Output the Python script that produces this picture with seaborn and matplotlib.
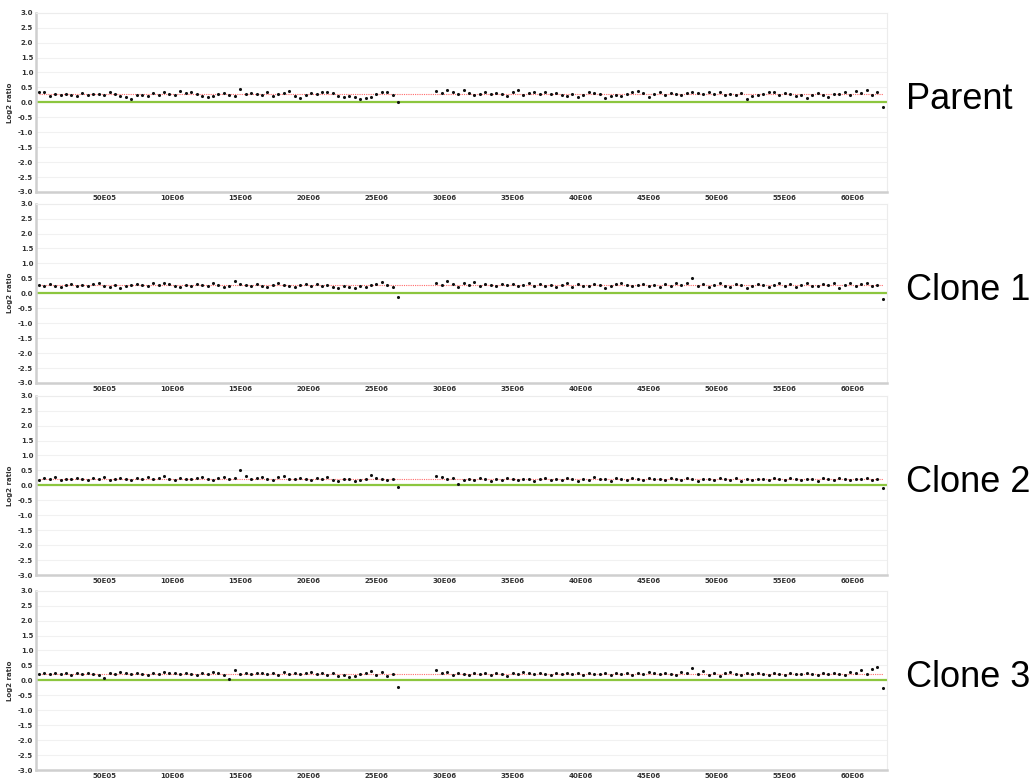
"""
Array CGH chromosome view: log2 ratio per probe for the parent line and three clones.
"""

import pandas as pd
import matplotlib.pyplot as plt
import seaborn as sns

# probe positions (Mb), shared by all four samples
p_arm_mb = [
    0.2, 0.6, 1.0, 1.4, 1.8, 2.2, 2.6, 3.0, 3.4, 3.8,
    4.2, 4.6, 5.0, 5.4, 5.8, 6.2, 6.6, 7.0, 7.4, 7.8,
    8.2, 8.6, 9.0, 9.4, 9.8, 10.2, 10.6, 11.0, 11.4, 11.8,
    12.2, 12.6, 13.0, 13.4, 13.8, 14.2, 14.6, 15.0, 15.4, 15.8,
    16.2, 16.6, 17.0, 17.4, 17.8, 18.2, 18.6, 19.0, 19.4, 19.8,
    20.2, 20.6, 21.0, 21.4, 21.8, 22.2, 22.6, 23.0, 23.4, 23.8,
    24.2, 24.6, 25.0, 25.4, 25.8, 26.2, 26.6,
]
q_arm_mb = [
    29.4, 29.8, 30.2, 30.6, 31.0, 31.4, 31.8, 32.2, 32.6, 33.0,
    33.4, 33.8, 34.2, 34.6, 35.0, 35.4, 35.8, 36.2, 36.6, 37.0,
    37.4, 37.8, 38.2, 38.6, 39.0, 39.4, 39.8, 40.2, 40.6, 41.0,
    41.4, 41.8, 42.2, 42.6, 43.0, 43.4, 43.8, 44.2, 44.6, 45.0,
    45.4, 45.8, 46.2, 46.6, 47.0, 47.4, 47.8, 48.2, 48.6, 49.0,
    49.4, 49.8, 50.2, 50.6, 51.0, 51.4, 51.8, 52.2, 52.6, 53.0,
    53.4, 53.8, 54.2, 54.6, 55.0, 55.4, 55.8, 56.2, 56.6, 57.0,
    57.4, 57.8, 58.2, 58.6, 59.0, 59.4, 59.8, 60.2, 60.6, 61.0,
    61.4, 61.8, 62.2,
]

samples = ["Parent", "Clone 1", "Clone 2", "Clone 3"]

parent_p = [
    0.33, 0.34, 0.22, 0.27, 0.25, 0.29, 0.24, 0.20, 0.31, 0.25,
    0.27, 0.29, 0.26, 0.33, 0.28, 0.22, 0.18, 0.12, 0.24, 0.26,
    0.22, 0.30, 0.25, 0.33, 0.28, 0.26, 0.37, 0.31, 0.34, 0.29,
    0.20, 0.18, 0.22, 0.27, 0.30, 0.24, 0.22, 0.46, 0.28, 0.31,
    0.27, 0.24, 0.35, 0.20, 0.27, 0.31, 0.39, 0.21, 0.16, 0.24,
    0.30, 0.28, 0.33, 0.35, 0.30, 0.22, 0.19, 0.21, 0.17, 0.11,
    0.14, 0.19, 0.27, 0.36, 0.33, 0.25, 0.01,
]
parent_q = [
    0.38, 0.30, 0.41, 0.33, 0.27, 0.40, 0.31, 0.24, 0.29, 0.33,
    0.27, 0.31, 0.28, 0.22, 0.35, 0.41, 0.26, 0.30, 0.33, 0.27,
    0.36, 0.29, 0.31, 0.25, 0.22, 0.28, 0.19, 0.26, 0.33, 0.30,
    0.27, 0.15, 0.20, 0.24, 0.21, 0.27, 0.33, 0.38, 0.30, 0.17,
    0.29, 0.33, 0.26, 0.31, 0.28, 0.24, 0.30, 0.36, 0.31, 0.27,
    0.34, 0.29, 0.33, 0.25, 0.28, 0.23, 0.31, 0.12, 0.21, 0.25,
    0.28, 0.33, 0.36, 0.24, 0.30, 0.27, 0.22, 0.25, 0.13, 0.26,
    0.30, 0.24, 0.17, 0.27, 0.29, 0.34, 0.26, 0.38, 0.31, 0.40,
    0.24, 0.36, -0.15,
]

clone1_p = [
    0.28, 0.24, 0.30, 0.26, 0.22, 0.29, 0.31, 0.25, 0.27, 0.24,
    0.30, 0.33, 0.26, 0.22, 0.28, 0.19, 0.25, 0.29, 0.31, 0.27,
    0.24, 0.33, 0.28, 0.35, 0.30, 0.26, 0.22, 0.29, 0.24, 0.31,
    0.27, 0.23, 0.34, 0.29, 0.21, 0.25, 0.42, 0.30, 0.27, 0.24,
    0.31, 0.26, 0.22, 0.28, 0.33, 0.29, 0.25, 0.20, 0.27, 0.31,
    0.26, 0.30, 0.24, 0.28, 0.22, 0.19, 0.25, 0.21, 0.17, 0.24,
    0.20, 0.28, 0.31, 0.37, 0.29, 0.22, -0.12,
]
clone1_q = [
    0.36, 0.28, 0.40, 0.30, 0.22, 0.33, 0.27, 0.38, 0.25, 0.31,
    0.29, 0.24, 0.32, 0.27, 0.30, 0.23, 0.28, 0.34, 0.26, 0.31,
    0.25, 0.29, 0.22, 0.27, 0.33, 0.21, 0.30, 0.26, 0.24, 0.31,
    0.28, 0.19, 0.26, 0.30, 0.35, 0.27, 0.23, 0.29, 0.32, 0.25,
    0.28, 0.22, 0.30, 0.26, 0.36, 0.29, 0.33, 0.52, 0.24, 0.31,
    0.20, 0.28, 0.34, 0.25, 0.22, 0.30, 0.27, 0.19, 0.25, 0.31,
    0.27, 0.22, 0.29, 0.33, 0.25, 0.30, 0.21, 0.28, 0.34, 0.26,
    0.23, 0.30, 0.27, 0.33, 0.18, 0.29, 0.35, 0.26, 0.31, 0.34,
    0.24, 0.29, -0.20,
]

clone2_p = [
    0.17, 0.24, 0.21, 0.27, 0.19, 0.23, 0.20, 0.26, 0.22, 0.18,
    0.24, 0.21, 0.27, 0.19, 0.23, 0.25, 0.20, 0.17, 0.24, 0.22,
    0.28, 0.21, 0.25, 0.30, 0.23, 0.19, 0.26, 0.22, 0.20, 0.25,
    0.29, 0.22, 0.18, 0.24, 0.27, 0.21, 0.26, 0.50, 0.31, 0.20,
    0.25, 0.29, 0.22, 0.17, 0.27, 0.31, 0.23, 0.20, 0.26, 0.22,
    0.18, 0.25, 0.21, 0.27, 0.19, 0.16, 0.22, 0.20, 0.15, 0.19,
    0.23, 0.36, 0.25, 0.21, 0.18, 0.22, -0.04,
]
clone2_q = [
    0.33, 0.27, 0.20, 0.24, 0.03, 0.19, 0.22, 0.17, 0.24, 0.20,
    0.16, 0.22, 0.19, 0.25, 0.21, 0.18, 0.23, 0.20, 0.15, 0.22,
    0.24, 0.19, 0.21, 0.17, 0.25, 0.20, 0.14, 0.22, 0.18, 0.27,
    0.23, 0.20, 0.16, 0.24, 0.21, 0.19, 0.26, 0.22, 0.18, 0.24,
    0.20, 0.23, 0.17, 0.25, 0.21, 0.19, 0.24, 0.20, 0.16, 0.23,
    0.21, 0.18, 0.25, 0.22, 0.19, 0.24, 0.15, 0.21, 0.18, 0.23,
    0.20, 0.17, 0.24, 0.21, 0.19, 0.26, 0.22, 0.18, 0.23, 0.20,
    0.16, 0.24, 0.21, 0.19, 0.25, 0.20, 0.17, 0.23, 0.21, 0.24,
    0.18, 0.22, -0.10,
]

clone3_p = [
    0.22, 0.26, 0.20, 0.24, 0.21, 0.25, 0.18, 0.23, 0.20, 0.26,
    0.22, 0.19, 0.08, 0.24, 0.21, 0.27, 0.23, 0.20, 0.25, 0.22,
    0.18, 0.24, 0.21, 0.28, 0.23, 0.26, 0.20, 0.24, 0.22, 0.19,
    0.25, 0.21, 0.27, 0.23, 0.19, 0.06, 0.36, 0.22, 0.25, 0.20,
    0.23, 0.26, 0.21, 0.24, 0.19, 0.27, 0.22, 0.25, 0.20, 0.23,
    0.28, 0.21, 0.24, 0.19, 0.26, 0.14, 0.17, 0.12, 0.16, 0.21,
    0.25, 0.31, 0.19, 0.27, 0.15, 0.22, -0.22,
]
clone3_q = [
    0.33, 0.24, 0.29, 0.19, 0.26, 0.22, 0.18, 0.25, 0.21, 0.23,
    0.19, 0.26, 0.22, 0.14, 0.24, 0.20, 0.27, 0.23, 0.21, 0.25,
    0.22, 0.19, 0.24, 0.21, 0.26, 0.20, 0.23, 0.18, 0.25, 0.22,
    0.20, 0.24, 0.17, 0.23, 0.21, 0.26, 0.19, 0.24, 0.22, 0.27,
    0.23, 0.20, 0.25, 0.21, 0.18, 0.29, 0.24, 0.41, 0.22, 0.30,
    0.19, 0.25, 0.16, 0.23, 0.27, 0.21, 0.18, 0.24, 0.20, 0.26,
    0.22, 0.19, 0.25, 0.21, 0.17, 0.24, 0.22, 0.20, 0.26, 0.21,
    0.18, 0.23, 0.20, 0.25, 0.22, 0.19, 0.28, 0.24, 0.33, 0.21,
    0.37, 0.45, -0.25,
]

# segment call (red dotted line) per sample
segment_means = [0.27, 0.27, 0.20, 0.20]

x_ticks_mb = [5, 10, 15, 20, 25, 30, 35, 40, 45, 50, 55, 60]
x_tick_labels = ["50E05", "10E06", "15E06", "20E06", "25E06", "30E06",
                 "35E06", "40E06", "45E06", "50E06", "55E06", "60E06"]
y_ticks = [-3.0, -2.5, -2.0, -1.5, -1.0, -0.5, 0.0, 0.5, 1.0, 1.5, 2.0, 2.5, 3.0]
y_tick_labels = ["-3.0", "-2.5", "-2.0", "-1.5", "-1.0", "-0.5", "0.0",
                 "0.5", "1.0", "1.5", "2.0", "2.5", "3.0"]

arrays = {
    "Parent": parent_p + parent_q,
    "Clone 1": clone1_p + clone1_q,
    "Clone 2": clone2_p + clone2_q,
    "Clone 3": clone3_p + clone3_q,
}
positions = p_arm_mb + q_arm_mb
df = pd.concat(
    [pd.DataFrame({"sample": s, "pos_mb": positions, "log2": arrays[s]}) for s in samples],
    ignore_index=True,
)

sns.set_style("white")
plt.rcParams["font.family"] = ["DejaVu Sans"]

fig = plt.figure(figsize=(10.35, 7.83), dpi=100)
panel_bottoms = [0.7548, 0.5109, 0.2656, 0.0166]
left, width, height = 0.0348, 0.8222, 0.229

for sample, mean, bottom in zip(samples, segment_means, panel_bottoms):
    ax = fig.add_axes([left, bottom, width, height])
    sub = df[df["sample"] == sample]

    ax.axhline(0, color="#8cc63e", lw=1.6, zorder=1)
    ax.hlines(mean, min(positions), max(positions), color="#ff6b6b",
              lw=0.8, linestyles=(0, (1, 1)), zorder=2)
    sns.scatterplot(data=sub, x="pos_mb", y="log2", ax=ax, color="#111111",
                    s=5, marker="o", linewidth=0, zorder=3, legend=False)

    ax.set_xlim(0, 62.5)
    ax.set_ylim(-3.0, 3.0)
    ax.set_xticks(x_ticks_mb)
    ax.set_xticklabels(x_tick_labels, fontsize=5, fontweight="bold", color="#333333")
    ax.set_yticks(y_ticks)
    ax.set_yticklabels(y_tick_labels, fontsize=5, fontweight="bold", color="#333333")
    ax.tick_params(axis="both", length=0, pad=2)
    ax.yaxis.grid(True, color="#f1f1f1", lw=0.8)
    ax.set_axisbelow(True)

    ax.set_xlabel("")
    ax.set_ylabel("Log2 ratio", fontsize=5, fontweight="bold", color="#333333")
    ax.yaxis.set_label_coords(-0.027, 0.5)

    for side in ["left", "bottom"]:
        ax.spines[side].set_color("#cfcfcf")
        ax.spines[side].set_linewidth(1.8)
    for side in ["top", "right"]:
        ax.spines[side].set_color("#ececec")
        ax.spines[side].set_linewidth(0.8)

    ax.text(1.022, 0.515, sample, transform=ax.transAxes, fontsize=26,
            family=["Liberation Sans", "DejaVu Sans"], ha="left", va="center",
            color="black")

fig.savefig("out.png", dpi=100)
